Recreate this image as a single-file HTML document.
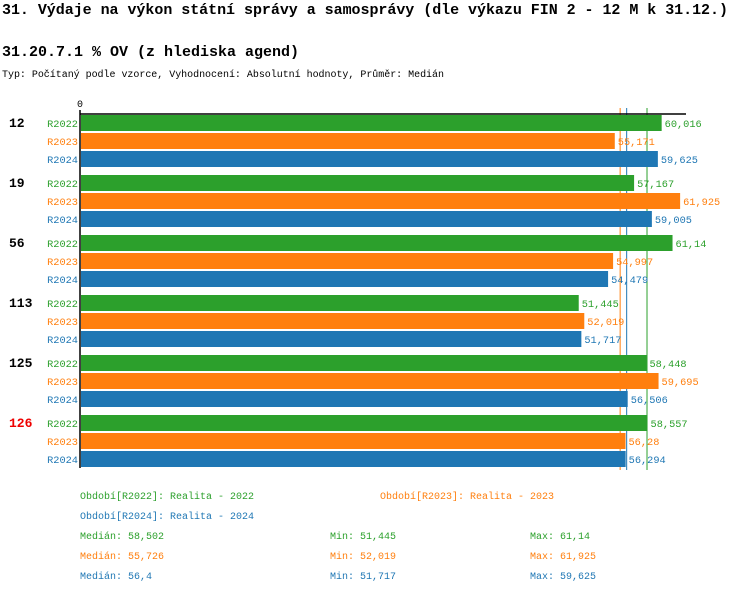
<!DOCTYPE html>
<html><head><meta charset="utf-8"><style>
body{margin:0;background:#fff;width:750px;height:594px;overflow:hidden;font-family:"Liberation Mono","DejaVu Sans Mono",monospace;}
</style></head><body>
<svg id="c" width="750" height="594" xmlns="http://www.w3.org/2000/svg">
<text x="2" y="14" font-size="15" font-weight="bold" font-family="Liberation Mono, monospace" textLength="726">31. Výdaje na výkon státní správy a samosprávy (dle výkazu FIN 2 - 12 M k 31.12.)</text>
<text x="2" y="56" font-size="15" font-weight="bold" font-family="Liberation Mono, monospace">31.20.7.1 % OV (z hlediska agend)</text>
<text x="2" y="77" font-size="10" font-family="Liberation Mono, monospace" textLength="442">Typ: Počítaný podle vzorce, Vyhodnocení: Absolutní hodnoty, Průměr: Medián</text>
<g id="plot"></g>
</svg>
<script>
const categories=["12","19","56","113","125","126"];
const series=["R2022","R2023","R2024"];
const v2022=[60.016,57.167,61.14,51.445,58.448,58.557];
const v2023=[55.171,61.925,54.997,52.019,59.695,56.28];
const v2024=[59.625,59.005,54.479,51.717,56.506,56.294];
const medians=[58.502,55.726,56.4];
const mins=[51.445,52.019,51.717];
const maxs=[61.14,61.925,59.625];
const colors=["#2ca02c","#ff7f0e","#1f77b4"];
const NS="http://www.w3.org/2000/svg";
const g=document.getElementById('plot');
const x0=81,scale=9.675;
const xs=v=>x0+v*scale;
const fmt=v=>String(v).replace('.',',');
function el(t,a,txt){const e=document.createElementNS(NS,t);for(const k in a)e.setAttribute(k,a[k]);if(txt!==undefined)e.textContent=txt;g.appendChild(e);return e;}
const vals=[v2022,v2023,v2024];
[1,2,0].forEach(j=>{
  const m=el('line',{x1:xs(medians[j]),x2:xs(medians[j]),y1:108,y2:470,stroke:colors[j],'stroke-width':1});
  
  
});
categories.forEach((c,i)=>{
  const gy=115+i*60;
  const t=el('text',{x:9,y:gy+12,'font-size':13,'font-weight':'bold',fill:c==="126"?"#e00":"#000"},c);
  
  
  series.forEach((s,j)=>{
    const y=gy+j*18;const v=vals[j][i];
    const l=el('text',{x:78,y:y+12,'font-size':10.3,'text-anchor':'end',fill:colors[j]},s);
    
    
    const r=el('rect',{x:x0,y:y,width:xs(v)-x0,height:16,fill:colors[j]});
    
    
    const vt=el('text',{x:xs(v)+3,y:y+12,'font-size':10.3,fill:colors[j]},fmt(v));
    
    
  });
});
const ax=el('line',{x1:80,x2:686,y1:114,y2:114,stroke:'#000','stroke-width':1.5});


const ay=el('line',{x1:80,x2:80,y1:110,y2:468,stroke:'#000','stroke-width':1.5});


const z=el('text',{x:80,y:107,'font-size':10,'text-anchor':'middle'},'0');


const legs=[["Období[R2022]: Realita - 2022",80,499,0],["Období[R2023]: Realita - 2023",380,499,1],["Období[R2024]: Realita - 2024",80,519,2]];
legs.forEach(L=>{const e=el('text',{x:L[1],y:L[2],'font-size':10,fill:colors[L[3]]},L[0]);

});
[0,1,2].forEach(j=>{const y=539+j*20;
 const a=el('text',{x:80,y:y,'font-size':10,fill:colors[j]},'Medián: '+fmt(medians[j]));
 
 
 const b=el('text',{x:330,y:y,'font-size':10,fill:colors[j]},'Min: '+fmt(mins[j]));
 
 
 const d=el('text',{x:530,y:y,'font-size':10,fill:colors[j]},'Max: '+fmt(maxs[j]));
 
 
});
</script>
</body></html>
